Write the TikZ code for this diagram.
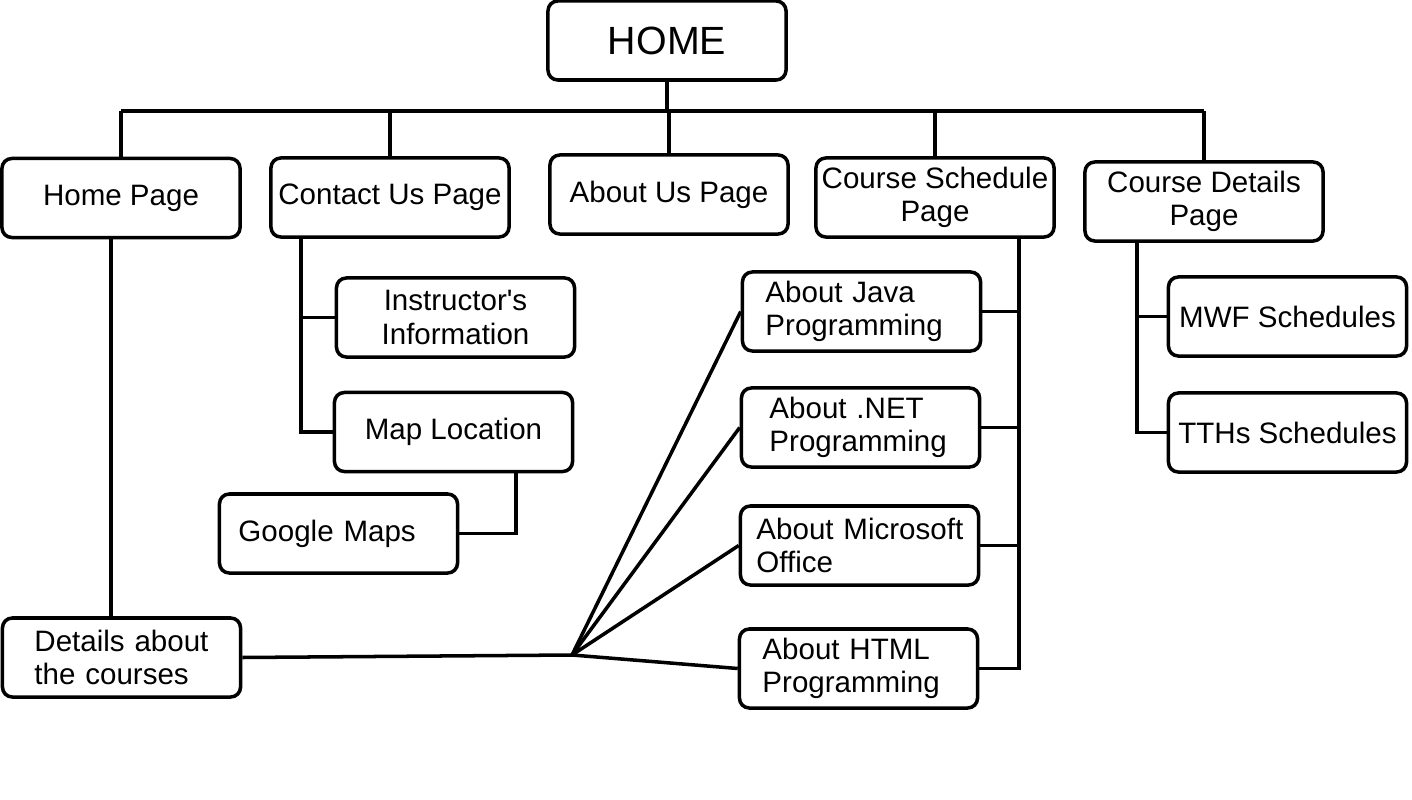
\documentclass[tikz,border=0pt]{standalone}
\usepackage{fontspec}
\setmainfont{Liberation Sans}[Ligatures=TeXOff]
\usetikzlibrary{calc}

\begin{document}
\begin{tikzpicture}[x=0.025cm, y=-0.025cm, line width=2.5pt,
    box/.style={draw, rounded corners=7pt, minimum width=5.95cm, minimum height=1.975cm,
      inner sep=0pt, align=center, font=\fontsize{21}{23.5}\selectfont},
    lbox/.style={box, align=left, text width=#1}]
  \useasboundingbox (0,0) rectangle (1412,800);

  % top level
  \node[box, font=\fontsize{28}{30}\selectfont] (home) at (667,40.5) {HOME};
  \node[box] (homepage) at (121,198) {Home Page};
  \node[box] (contact) at (390,197.5) {Contact Us Page};
  \node[box] (aboutus) at (669,194.5) {About Us Page};
  \node[box] (sched) at (935,197.5) {Course Schedule\\Page};
  \node[box] (cdetails) at (1204,201.5) {Course Details\\Page};

  % second level
  \node[box] (instr) at (455.5,317.5) {Instructor's\\Information};
  \node[box] (maploc) at (453.5,432) {Map Location};
  \node[lbox=5cm] (gmaps) at (338.5,533.5) {Google Maps};
  \node[lbox=4.35cm] (coursesinfo) at (121.5,657.5) {Details about\\the courses};
  \node[lbox=4.8cm] (java) at (861.5,311.5) {About Java\\Programming};
  \node[lbox=4.55cm] (dotnet) at (860.5,427.5) {About .NET\\Programming};
  \node[lbox=5.15cm] (office) at (859.5,545.5) {\mbox{About Microsoft}\\Office};
  \node[lbox=4.8cm] (html) at (858.5,668.5) {About HTML\\Programming};
  \node[box] (mwf) at (1287.5,316.5) {MWF Schedules};
  \node[box] (tths) at (1287.5,432.5) {TTHs Schedules};

  % trunks
  \coordinate (bus) at (0,111);
  \coordinate (ht) at (111,0);
  \coordinate (ct) at (301,0);
  \coordinate (gm) at (516,0);
  \coordinate (st) at (1019,0);
  \coordinate (dt) at (1137,0);
  \coordinate (hub) at (572,655);

  \draw (home.south) -- (home.south |- bus);
  \draw (homepage.north |- bus) -- (cdetails.north |- bus);
  \foreach \n in {homepage, contact, aboutus, sched, cdetails}
    \draw (\n.north |- bus) -- (\n.north);

  \draw (homepage.south -| ht) -- (coursesinfo.north -| ht);

  \draw (contact.south -| ct) |- (maploc.west);
  \draw (instr.west -| ct) -- (instr.west);
  \draw (maploc.south -| gm) |- (gmaps.east);

  \draw (sched.south -| st) |- (html.east);
  \foreach \n in {java, dotnet, office}
    \draw (\n.east) -- (\n.east -| st);

  \draw (cdetails.south -| dt) |- (tths.west);
  \draw (mwf.west -| dt) -- (mwf.west);

  % fan out
  \draw (coursesinfo.east) -- (hub);
  \foreach \n in {java, dotnet, office, html}
    \draw (hub) -- (\n.west);
\end{tikzpicture}
\end{document}
